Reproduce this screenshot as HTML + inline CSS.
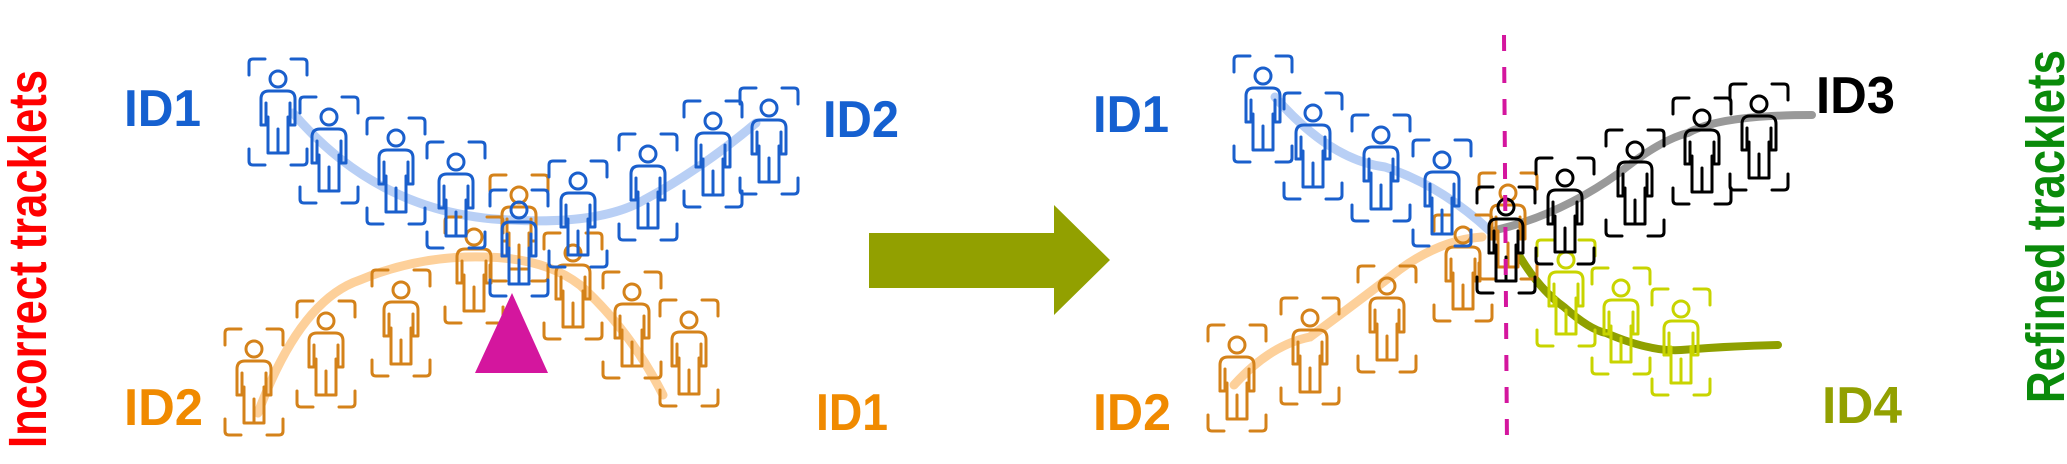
<!DOCTYPE html>
<html><head><meta charset="utf-8"><style>
html,body{margin:0;padding:0;background:#fff;}
svg{display:block;}
text{font-family:"Liberation Sans Narrow","Liberation Sans",Arial,sans-serif;font-weight:bold;}
</style></head><body>
<svg width="2067" height="464" viewBox="0 0 2067 464" xmlns="http://www.w3.org/2000/svg">
<defs>
<symbol id="p" viewBox="0 0 62 110" width="62" height="110" overflow="visible">
<g fill="none" stroke="currentColor" stroke-width="3" stroke-linecap="round" stroke-linejoin="round">
<path d="M2,18 V6 Q2,2 6,2 H18"/>
<path d="M44,2 H56 Q60,2 60,6 V18"/>
<path d="M2,92 V104 Q2,108 6,108 H18"/>
<path d="M44,108 H56 Q60,108 60,104 V92"/>
<circle cx="31" cy="22" r="8"/>
<path d="M14,68 V42 Q14,34 22,34 H40 Q48,34 48,42 V68 H43 V46"/>
<path d="M14,68 H19 V46"/>
<path d="M21,60 V96 H41 V60"/>
<path d="M31,72 V96"/>
</g>
</symbol>
</defs>

<text transform="translate(46,448) rotate(-90)" font-size="54" fill="#ff0000" textLength="378" lengthAdjust="spacingAndGlyphs" style="font-family:'Liberation Sans',Arial,sans-serif">Incorrect tracklets</text>

<path d="M293,113 Q380,215 510,220 Q600,225 644,200 Q700,170 756,123" fill="none" stroke="#b8cff5" stroke-width="9" stroke-linecap="round"/>
<path d="M258,413 Q300,300 360,280 Q420,255 485,257 Q545,258 580,285 Q630,330 663,395" fill="none" stroke="#fdd09a" stroke-width="9" stroke-linecap="round"/>

<g color="#d4821a">
<use href="#p" x="223" y="327"/>
<use href="#p" x="295" y="299"/>
<use href="#p" x="370" y="268"/>
<use href="#p" x="443" y="215"/>
<use href="#p" x="488" y="173"/>
<use href="#p" x="542" y="231"/>
<use href="#p" x="601" y="270"/>
<use href="#p" x="658" y="298"/>
</g>
<g color="#1a5fcc">
<use href="#p" x="247" y="57"/>
<use href="#p" x="298" y="95"/>
<use href="#p" x="365" y="116"/>
<use href="#p" x="425" y="140"/>
<use href="#p" x="488" y="188"/>
<use href="#p" x="547" y="159"/>
<use href="#p" x="617" y="132"/>
<use href="#p" x="682" y="99"/>
<use href="#p" x="738" y="86"/>
</g>

<polygon points="512,293 475,373 548,373" fill="#d4169e"/>

<text x="124" y="126" font-size="52" fill="#1560d0" textLength="77" lengthAdjust="spacingAndGlyphs">ID1</text>
<text x="823" y="137" font-size="52" fill="#1560d0" textLength="76" lengthAdjust="spacingAndGlyphs">ID2</text>
<text x="124" y="425" font-size="52" fill="#f08a00" textLength="79" lengthAdjust="spacingAndGlyphs">ID2</text>
<text x="816" y="430" font-size="52" fill="#f08a00" textLength="72" lengthAdjust="spacingAndGlyphs">ID1</text>

<polygon points="869,233 1054,233 1054,205 1110,260 1054,315 1054,288 869,288" fill="#92a000"/>

<path d="M1275,97 Q1330,160 1385,167 Q1440,185 1489,230" fill="none" stroke="#b8cff5" stroke-width="9" stroke-linecap="round"/>
<path d="M1496,230 Q1560,215 1619,173 Q1660,140 1688,133 Q1720,115 1812,115" fill="none" stroke="#999999" stroke-width="8" stroke-linecap="round"/>
<path d="M1234,385 Q1270,345 1310,337 Q1360,300 1399,270 Q1440,240 1482,237" fill="none" stroke="#fdd09a" stroke-width="9" stroke-linecap="round"/>
<path d="M1520,257 Q1540,290 1564,307 Q1590,330 1606,333 Q1650,352 1681,350 Q1730,346 1778,345" fill="none" stroke="#8fa000" stroke-width="8" stroke-linecap="round"/>

<g color="#d4821a">
<use href="#p" x="1206" y="323"/>
<use href="#p" x="1279" y="296"/>
<use href="#p" x="1356" y="264"/>
<use href="#p" x="1432" y="213"/>
<use href="#p" x="1477" y="171"/>
</g>
<g color="#1a5fcc">
<use href="#p" x="1232" y="54"/>
<use href="#p" x="1282" y="91"/>
<use href="#p" x="1350" y="113"/>
<use href="#p" x="1411" y="138"/>
</g>
<g color="#c8d400">
<use href="#p" x="1535" y="238"/>
<use href="#p" x="1590" y="266"/>
<use href="#p" x="1650" y="287"/>
</g>
<g color="#000000">
<use href="#p" x="1475" y="185"/>
<use href="#p" x="1534" y="156"/>
<use href="#p" x="1604" y="128"/>
<use href="#p" x="1671" y="96"/>
<use href="#p" x="1728" y="82"/>
</g>

<line x1="1504" y1="35" x2="1507" y2="445" stroke="#d4169e" stroke-width="4" stroke-dasharray="16,16"/>

<text x="1093" y="132" font-size="52" fill="#1560d0" textLength="76" lengthAdjust="spacingAndGlyphs">ID1</text>
<text x="1093" y="430" font-size="52" fill="#f08a00" textLength="78" lengthAdjust="spacingAndGlyphs">ID2</text>
<text x="1816" y="113" font-size="52" fill="#000000" textLength="79" lengthAdjust="spacingAndGlyphs">ID3</text>
<text x="1822" y="423" font-size="52" fill="#92a000" textLength="80" lengthAdjust="spacingAndGlyphs">ID4</text>

<text transform="translate(2064,403) rotate(-90)" font-size="54" fill="#0a8a0a" textLength="353" lengthAdjust="spacingAndGlyphs" style="font-family:'Liberation Sans',Arial,sans-serif">Refined tracklets</text>
</svg>
</body></html>
